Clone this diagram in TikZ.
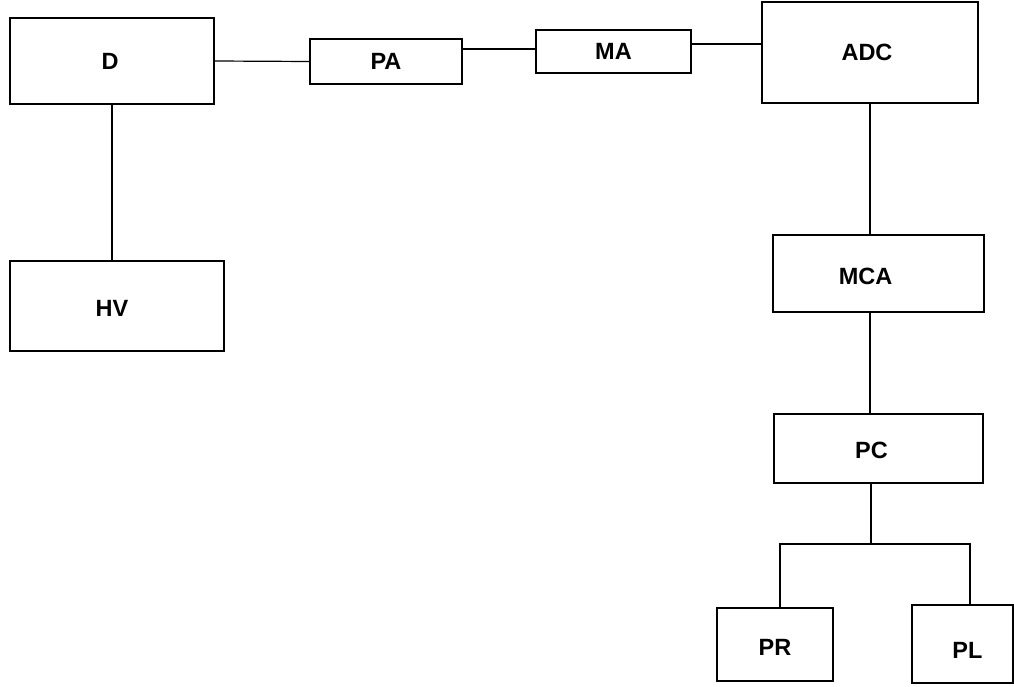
\documentclass[tikz,border=0pt]{standalone}
\usepackage{fontspec}
\setmainfont{Liberation Sans}
\tikzset{every picture/.style={x=1pt,y=-1pt}}
\tikzset{block/.style={rectangle,draw,line width=1.2pt,inner sep=0pt}}
\tikzset{tag/.style={inner sep=0pt,font=\bfseries\fontsize{23.5}{26}\selectfont}}
\tikzset{wire/.style={line width=1.2pt}}

\begin{document}
\begin{tikzpicture}
\useasboundingbox (0,0) rectangle (1014,687);
\node [block,minimum width=204,minimum height=86,label={[tag,xshift=-2pt]center:D}] (d) at (112,61) {};
\node [block,minimum width=152,minimum height=45,label={[tag]center:PA}] (pa) at (386,61.5) {};
\node [block,minimum width=155,minimum height=43,label={[tag]center:MA}] (ma) at (613.5,51.5) {};
\node [block,minimum width=216,minimum height=101,label={[tag,xshift=-3pt]center:ADC}] (adc) at (870,52.5) {};
\node [block,minimum width=214,minimum height=90,label={[tag,xshift=-5pt,yshift=-2pt]center:HV}] (hv) at (117,306) {};
\node [block,minimum width=211,minimum height=77,label={[tag,xshift=-13pt,yshift=-2.5pt]center:MCA}] (mca) at (878.5,273.5) {};
\node [block,minimum width=209,minimum height=69,label={[tag,xshift=-7pt,yshift=-1.5pt]center:PC}] (pc) at (878.5,448.5) {};
\node [block,minimum width=116,minimum height=73,label={[tag,yshift=-2.5pt]center:PR}] (pr) at (775,644.5) {};
\node [block,minimum width=101,minimum height=78,label={[tag,xshift=5pt,yshift=-6pt]center:PL}] (pl) at (962.5,644) {};
\coordinate (fork) at (871,544);
\coordinate (forkl) at (780,544);
\coordinate (forkr) at (970,544);
\draw [wire] (d.east) -- (pa.west);
\draw [wire] ([yshift=12.5pt]pa.east) -- ([yshift=12.5pt]pa.east -| ma.west);
\draw [wire] ([yshift=7.5pt]ma.east) -- ([yshift=7.5pt]ma.east -| adc.west);
\draw [wire] (d.south) -- (d.south |- hv.north);
\draw [wire] (adc.south) -- (adc.south |- mca.north);
\draw [wire] (mca.south -| adc.south) -- (pc.north -| adc.south);
\draw [wire] (pc.south -| fork) -- (fork);
\draw [wire] (forkl |- pr.north) -- (forkl) -- (forkr) -- (forkr |- pl.north);
\end{tikzpicture}
\end{document}
